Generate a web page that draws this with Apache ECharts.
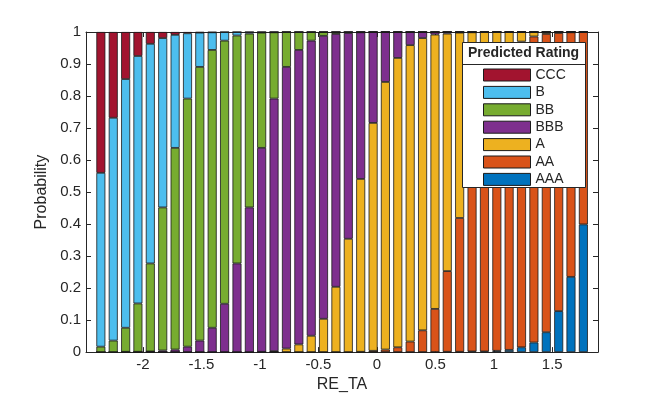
<!DOCTYPE html>
<html>
<head>
<meta charset="utf-8">
<script src="https://cdn.jsdelivr.net/npm/echarts@6/dist/echarts.min.js"></script>
<style>
  html, body { margin: 0; padding: 0; background: #fff; }
  #chart { width: 661px; height: 398px; }
</style>
</head>
<body>
<div id="chart"></div>
<script>
// bar positions (RE_TA)
var reTA = [-2.360, -2.254, -2.148, -2.043, -1.937, -1.831, -1.725, -1.619, -1.514, -1.408,
            -1.302, -1.196, -1.090, -0.985, -0.879, -0.773, -0.667, -0.561, -0.456, -0.350,
            -0.244, -0.138, -0.032, 0.073, 0.179, 0.285, 0.391, 0.497, 0.602, 0.708,
            0.814, 0.920, 1.026, 1.131, 1.237, 1.343, 1.449, 1.555, 1.660, 1.766];

var xTicks = [-2, -1.5, -1, -0.5, 0, 0.5, 1, 1.5];

// predicted probability per rating
var pCCC = [0.440, 0.268, 0.147, 0.075, 0.037, 0.019, 0.009, 0.004, 0.002, 0.001,
            0, 0, 0, 0, 0, 0, 0, 0, 0, 0,
            0, 0, 0, 0, 0, 0, 0, 0, 0, 0,
            0, 0, 0, 0, 0, 0, 0, 0, 0, 0];
var pB   = [0.543, 0.696, 0.777, 0.773, 0.686, 0.529, 0.353, 0.204, 0.107, 0.055,
            0.027, 0.011, 0.005, 0.002, 0.001, 0, 0, 0, 0, 0,
            0, 0, 0, 0, 0, 0, 0, 0, 0, 0,
            0, 0, 0, 0, 0, 0, 0, 0, 0, 0];
var pBB  = [0.017, 0.036, 0.075, 0.151, 0.275, 0.447, 0.630, 0.775, 0.855, 0.868,
            0.822, 0.712, 0.543, 0.360, 0.207, 0.109, 0.056, 0.027, 0.012, 0.006,
            0.003, 0.001, 0, 0, 0, 0, 0, 0, 0, 0,
            0, 0, 0, 0, 0, 0, 0, 0, 0, 0];
var pBBB = [0, 0, 0.001, 0.001, 0.002, 0.005, 0.008, 0.017, 0.036, 0.076,
            0.151, 0.277, 0.452, 0.637, 0.789, 0.880, 0.920, 0.922, 0.884, 0.790,
            0.643, 0.458, 0.284, 0.156, 0.081, 0.041, 0.019, 0.008, 0.005, 0.002,
            0.001, 0, 0, 0, 0, 0, 0, 0, 0, 0];
var pA   = [0, 0, 0, 0, 0, 0, 0, 0, 0, 0,
            0, 0, 0, 0.001, 0.003, 0.011, 0.024, 0.051, 0.104, 0.204,
            0.354, 0.540, 0.712, 0.836, 0.904, 0.926, 0.913, 0.857, 0.742, 0.579,
            0.393, 0.233, 0.125, 0.062, 0.030, 0.014, 0.006, 0.003, 0.001, 0];
var pAA  = [0, 0, 0, 0, 0, 0, 0, 0, 0, 0,
            0, 0, 0, 0, 0, 0, 0, 0, 0, 0,
            0, 0.001, 0.004, 0.008, 0.015, 0.033, 0.068, 0.135, 0.252, 0.418,
            0.604, 0.765, 0.871, 0.931, 0.955, 0.956, 0.932, 0.869, 0.764, 0.601];
var pAAA = [0, 0, 0, 0, 0, 0, 0, 0, 0, 0,
            0, 0, 0, 0, 0, 0, 0, 0, 0, 0,
            0, 0, 0, 0, 0, 0, 0, 0, 0.001, 0.001,
            0.002, 0.002, 0.004, 0.007, 0.015, 0.030, 0.062, 0.128, 0.235, 0.399];

var ratings = ['CCC', 'B', 'BB', 'BBB', 'A', 'AA', 'AAA'];
var colors = {
    CCC: '#A2142F', B: '#4DBEEE', BB: '#77AC30', BBB: '#7E2F8E',
    A: '#EDB120', AA: '#D95319', AAA: '#0072BD'
};
var probs = { CCC: pCCC, B: pB, BB: pBB, BBB: pBBB, A: pA, AA: pAA, AAA: pAAA };

var txt = '#262626';
var font = 'Liberation Sans, Arial, sans-serif';

// stack from the bottom: AAA first.
// value goes in dim 0 so the stack is computed on y, not on x
var series = ratings.slice().reverse().map(function (r) {
    return {
        name: r,
        type: 'bar',
        stack: 'prob',
        barWidth: 9,
        xAxisIndex: 0,
        yAxisIndex: 0,
        encode: { x: 1, y: 0 },
        itemStyle: { color: colors[r], borderColor: '#1a1a1a', borderWidth: 0.8 },
        emphasis: { disabled: true },
        data: reTA.map(function (x, i) { return [probs[r][i], x]; })
    };
});

var chart = echarts.init(document.getElementById('chart'), null, { renderer: 'canvas' });

var option = {
    animation: false,
    backgroundColor: '#ffffff',
    textStyle: { fontFamily: font },
    grid: { left: 86, right: 63, top: 32, bottom: 45, containLabel: false },
    xAxis: [
        {
            type: 'value', position: 'bottom', min: -2.487, max: 1.891,
            name: 'RE_TA', nameLocation: 'middle', nameGap: 24,
            nameTextStyle: { color: txt, fontSize: 16, fontFamily: font },
            axisLine: { show: true, onZero: false, lineStyle: { color: txt, width: 1 } },
            axisTick: { show: true, inside: true, length: 5, customValues: xTicks, lineStyle: { color: txt } },
            axisLabel: { color: txt, fontSize: 15, margin: 5, customValues: xTicks, fontFamily: font },
            splitLine: { show: false }
        },
        {
            type: 'value', position: 'top', min: -2.487, max: 1.891,
            axisLine: { show: true, onZero: false, lineStyle: { color: txt, width: 1 } },
            axisTick: { show: true, inside: true, length: 5, customValues: xTicks, lineStyle: { color: txt } },
            axisLabel: { show: false },
            splitLine: { show: false }
        }
    ],
    yAxis: [
        {
            type: 'value', position: 'left', min: 0, max: 1, interval: 0.1,
            name: 'Probability', nameLocation: 'middle', nameGap: 31,
            nameTextStyle: { color: txt, fontSize: 16, fontFamily: font },
            axisLine: { show: true, onZero: false, lineStyle: { color: txt, width: 1 } },
            axisTick: { show: true, inside: true, length: 5, lineStyle: { color: txt } },
            axisLabel: { color: txt, fontSize: 15, margin: 5, fontFamily: font },
            splitLine: { show: false }
        },
        {
            type: 'value', position: 'right', min: 0, max: 1, interval: 0.1,
            axisLine: { show: true, onZero: false, lineStyle: { color: txt, width: 1 } },
            axisTick: { show: true, inside: true, length: 5, lineStyle: { color: txt } },
            axisLabel: { show: false },
            splitLine: { show: false }
        }
    ],
    legend: {
        data: ratings,
        orient: 'vertical',
        left: 483,
        top: 68,
        padding: 0,
        icon: 'rect',
        itemWidth: 47,
        itemHeight: 12,
        itemGap: 3.4,
        selectedMode: false,
        itemStyle: { borderColor: '#1a1a1a', borderWidth: 1 },
        textStyle: { color: txt, fontSize: 14, lineHeight: 12, fontFamily: font }
    },
    graphic: [
        {
            type: 'rect', z: 3,
            shape: { x: 462.5, y: 42.5, width: 123, height: 145 },
            style: { fill: '#ffffff', stroke: txt, lineWidth: 1 }
        },
        {
            type: 'line', z: 3,
            shape: { x1: 462.5, y1: 64.5, x2: 585.5, y2: 64.5 },
            style: { stroke: txt, lineWidth: 1 }
        },
        {
            type: 'text', z: 3,
            x: 523.5, y: 53.5,
            style: {
                text: 'Predicted Rating', fill: txt, font: 'bold 14px Liberation Sans, Arial, sans-serif',
                textAlign: 'center', textVerticalAlign: 'middle'
            }
        }
    ],
    series: series
};

chart.setOption(option);
</script>
</body>
</html>
